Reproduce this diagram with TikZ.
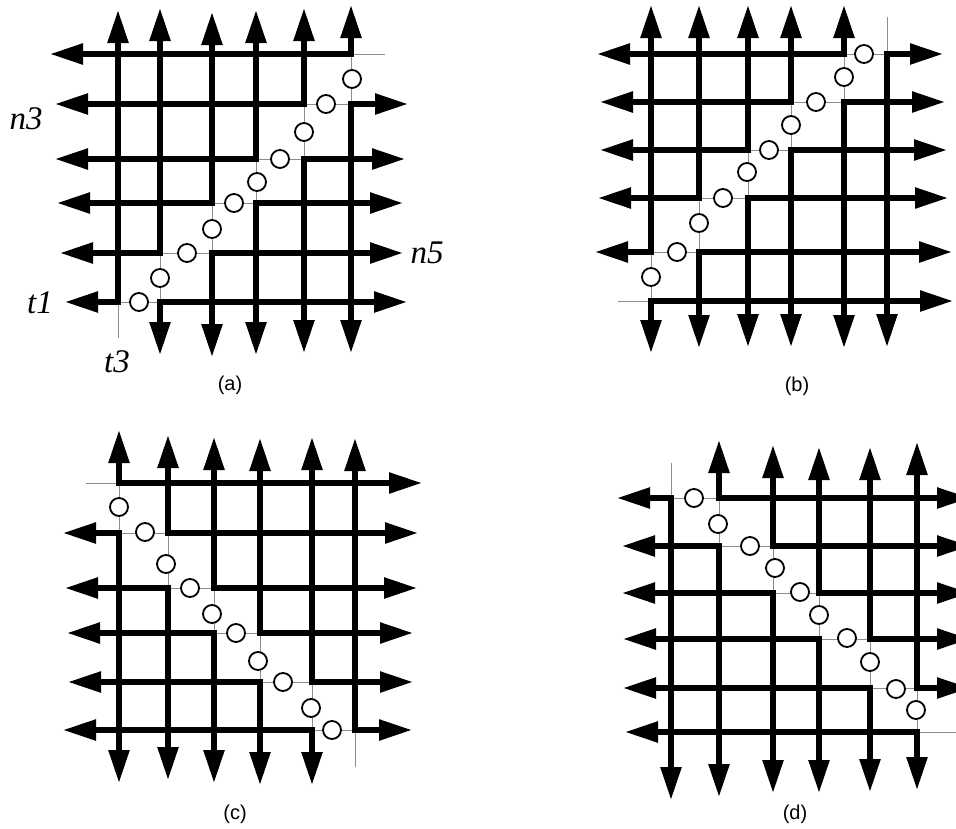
\documentclass[tikz,border=0pt]{standalone}
\usepackage{fontspec}
\setmainfont{Liberation Serif}
\setsansfont{Liberation Sans}
\usetikzlibrary{arrows.meta}
\tikzset{
  wire/.style={line width=5.5pt, line join=miter,
    {Triangle[length=33pt,width=20pt]}-{Triangle[length=33pt,width=20pt]}},
  stair/.style={line width=0.8pt, draw=black!45},
  sw/.style={circle, draw, line width=1.8pt, fill=white, minimum size=18pt, inner sep=0pt},
  lab/.style={font=\fontsize{33}{33}\selectfont\itshape, inner sep=0pt},
  capt/.style={font=\sffamily\fontsize{20}{20}\selectfont, inner sep=0pt}
}
\begin{document}
\begin{tikzpicture}[x=1pt,y=-1pt]
\useasboundingbox (0,0) rectangle (956,828);
\fill[white] (0,0) rectangle (956,828);

% ================= panel (a) =================
\draw[stair] (118,338) -- (118,302) -- (160,302) -- (160,253) -- (212,253) -- (212,203)
  -- (256,203) -- (256,159) -- (304,159) -- (304,104) -- (351,104) -- (351,54) -- (385,54);
\draw[wire] (118,10) -- (118,302) -- (65,302);
\draw[wire] (160,8) -- (160,253) -- (60,253);
\draw[wire] (212,12) -- (212,203) -- (57,203);
\draw[wire] (256,10) -- (256,159) -- (55,159);
\draw[wire] (304,8) -- (304,104) -- (55,104);
\draw[wire] (351,5) -- (351,54) -- (50,54);
\draw[wire] (407,302) -- (160,302) -- (160,355);
\draw[wire] (403,253) -- (212,253) -- (212,357);
\draw[wire] (403,203) -- (256,203) -- (256,355);
\draw[wire] (405,159) -- (304,159) -- (304,353);
\draw[wire] (408,104) -- (351,104) -- (351,353);
\foreach \p [count=\i] in {(139,302),(160,278),(187,253),(212,229),(234,203),(257,182),(280,159),(304,132),(326,104),(352,79)}
  \node[sw] (a\i) at \p {};
\node[lab] (n3) at (26,119) {n3};
\node[lab] (t1) at (40,303) {t1};
\node[lab] (n5) at (427,253) {n5};
\node[lab] (t3) at (117,362) {t3};
\node[capt] (capa) at (230,385) {(a)};

% ================= panel (b) =================
\draw[stair] (618,301) -- (651,301) -- (651,252) -- (699,252) -- (699,198) -- (748,198)
  -- (748,150) -- (791,150) -- (791,102) -- (844,102) -- (844,54) -- (887,54) -- (887,17);
\draw[wire] (651,5) -- (651,252) -- (595,252);
\draw[wire] (699,5) -- (699,198) -- (598,198);
\draw[wire] (748,5) -- (748,150) -- (600,150);
\draw[wire] (791,5) -- (791,102) -- (600,102);
\draw[wire] (844,5) -- (844,54) -- (597,54);
\draw[wire] (953,301) -- (651,301) -- (651,353);
\draw[wire] (952,252) -- (699,252) -- (699,348);
\draw[wire] (948,198) -- (748,198) -- (748,347);
\draw[wire] (947,150) -- (791,150) -- (791,347);
\draw[wire] (945,102) -- (844,102) -- (844,348);
\draw[wire] (943,54) -- (887,54) -- (887,347);
\foreach \p [count=\i] in {(651,277),(677,252),(699,223),(723,198),(747,172),(769,150),(791,125),(816,102),(844,77),(864,54)}
  \node[sw] (b\i) at \p {};
\node[capt] (capb) at (797,386) {(b)};

% ================= panel (c) =================
\draw[stair] (86,483) -- (119,483) -- (119,533) -- (168,533) -- (168,588) -- (214,588)
  -- (214,633) -- (260,633) -- (260,682) -- (312,682) -- (312,730) -- (355,730) -- (355,767);
\draw[wire] (119,430) -- (119,483) -- (422,483);
\draw[wire] (168,435) -- (168,533) -- (418,533);
\draw[wire] (214,437) -- (214,588) -- (417,588);
\draw[wire] (260,438) -- (260,633) -- (413,633);
\draw[wire] (312,437) -- (312,682) -- (413,682);
\draw[wire] (355,438) -- (355,730) -- (412,730);
\draw[wire] (63,533) -- (119,533) -- (119,783);
\draw[wire] (65,588) -- (168,588) -- (168,780);
\draw[wire] (67,633) -- (214,633) -- (214,783);
\draw[wire] (68,682) -- (260,682) -- (260,785);
\draw[wire] (63,730) -- (312,730) -- (312,785);
\foreach \p [count=\i] in {(119,507),(145,532),(166,564),(190,588),(212,614),(236,633),(258,661),(283,682),(311,708),(332,730)}
  \node[sw] (c\i) at \p {};
\node[capt] (capc) at (235,814) {(c)};

% ================= panel (d) =================
\draw[stair] (671,463) -- (671,498) -- (719,498) -- (719,546) -- (773,546) -- (773,593)
  -- (819,593) -- (819,639) -- (870,639) -- (870,688) -- (917,688) -- (917,732) -- (960,732);
\draw[wire] (617,498) -- (671,498) -- (671,800);
\draw[wire] (622,546) -- (719,546) -- (719,797);
\draw[wire] (622,593) -- (773,593) -- (773,793);
\draw[wire] (623,639) -- (819,639) -- (819,793);
\draw[wire] (623,688) -- (870,688) -- (870,792);
\draw[wire] (625,732) -- (917,732) -- (917,790);
\draw[wire] (719,440) -- (719,498) -- (970,498);
\draw[wire] (773,445) -- (773,546) -- (970,546);
\draw[wire] (819,447) -- (819,593) -- (970,593);
\draw[wire] (870,447) -- (870,639) -- (970,639);
\draw[wire] (917,442) -- (917,688) -- (970,688);
\foreach \p [count=\i] in {(694,498),(718,524),(750,546),(775,568),(800,592),(819,615),(847,638),(870,662),(896,689),(916,710)}
  \node[sw] (d\i) at \p {};
\node[capt] (capd) at (795,814) {(d)};
\end{tikzpicture}
\end{document}
